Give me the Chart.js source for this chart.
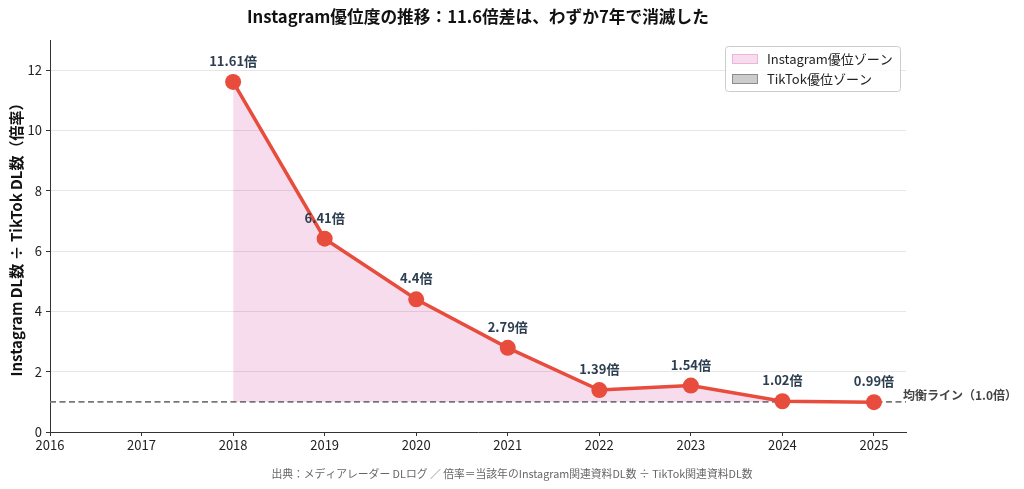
<!DOCTYPE html>
<html>
<head>
<meta charset="utf-8">
<script src="https://cdn.jsdelivr.net/npm/chart.js@4.4.1/dist/chart.umd.min.js"></script>
<style>
  html, body { margin: 0; padding: 0; background: #fff; }
  #wrap { width: 1024px; height: 489px; }
</style>
</head>
<body>
<div id="wrap"><canvas id="graficoRatio" width="1024" height="489"></canvas></div>
<script>
const years = [2018, 2019, 2020, 2021, 2022, 2023, 2024, 2025];
const ratios = [11.61, 6.41, 4.4, 2.79, 1.39, 1.54, 1.02, 0.99];
const ratioLabels = ["11.61倍", "6.41倍", "4.4倍", "2.79倍", "1.39倍", "1.54倍", "1.02倍", "0.99倍"];
const yTicks = [0, 2, 4, 6, 8, 10, 12];
const xTicks = [2016, 2017, 2018, 2019, 2020, 2021, 2022, 2023, 2024, 2025];
const balanceValue = 1.0;
const legendNames = ["Instagram優位ゾーン", "TikTok優位ゾーン"];

const FONT = "'Noto Sans CJK JP', 'Noto Sans', sans-serif";
const RED = "#e74c3c";
const PINK = "rgba(199,21,133,0.15)";
const GRAY = "rgba(128,128,128,0.4)";

const textosPlugin = {
  id: "textos",
  afterDatasetsDraw(chart) {
    const ctx = chart.ctx;
    const meta = chart.getDatasetMeta(0);
    ctx.save();
    ctx.font = "bold 13px " + FONT;
    ctx.fillStyle = "#2c3e50";
    ctx.textAlign = "center";
    ctx.textBaseline = "middle";
    meta.data.forEach((p, i) => {
      ctx.fillText(ratioLabels[i], p.x, p.y - 21);
    });
    ctx.restore();
  },
  afterDraw(chart) {
    const ctx = chart.ctx;
    const area = chart.chartArea;
    const yScale = chart.scales.y;
    ctx.save();
    // title
    ctx.font = "bold 16.7px " + FONT;
    ctx.fillStyle = "#111";
    ctx.textAlign = "center";
    ctx.textBaseline = "middle";
    ctx.fillText("Instagram優位度の推移：11.6倍差は、わずか7年で消滅した", (area.left + area.right) / 2, 17);
    // footer
    ctx.font = "10.8px " + FONT;
    ctx.fillStyle = "#666";
    ctx.fillText("出典：メディアレーダー DLログ ／ 倍率＝当該年のInstagram関連資料DL数 ÷ TikTok関連資料DL数", 512, 474);
    // balance label
    ctx.font = "bold 12px " + FONT;
    ctx.fillStyle = "#444";
    ctx.textAlign = "left";
    ctx.fillText("均衡ライン（1.0倍）", area.right - 3, yScale.getPixelForValue(balanceValue) - 6);
    // legend
    const lx = 725, ly = 46, lw = 175, lh = 45;
    ctx.fillStyle = "rgba(255,255,255,0.85)";
    ctx.strokeStyle = "#ccc";
    ctx.lineWidth = 1;
    ctx.beginPath();
    ctx.roundRect(lx + 0.5, ly + 0.5, lw, lh, 3);
    ctx.fill();
    ctx.stroke();
    const cols = [PINK, GRAY];
    const edges = ["rgba(199,21,133,0.2)", "rgba(100,100,100,0.6)"];
    legendNames.forEach((name, i) => {
      const yy = ly + 13 + i * 20;
      ctx.fillStyle = cols[i];
      ctx.fillRect(lx + 7, yy - 5, 26, 10);
      ctx.strokeStyle = edges[i];
      ctx.strokeRect(lx + 7.5, yy - 4.5, 25, 9);
      ctx.fillStyle = "#222";
      ctx.font = "13px " + FONT;
      ctx.textBaseline = "middle";
      ctx.fillText(name, lx + 42, yy);
    });
    ctx.restore();
  }
};

new Chart(document.getElementById("graficoRatio"), {
  type: "line",
  data: {
    datasets: [
      {
        label: "ratio",
        data: years.map((y, i) => ({ x: y, y: ratios[i] })),
        borderColor: RED,
        backgroundColor: RED,
        borderWidth: 3.5,
        pointRadius: 8,
        pointBackgroundColor: RED,
        pointBorderColor: RED,
        pointBorderWidth: 0,
        tension: 0,
        fill: { target: { value: balanceValue }, above: PINK, below: GRAY },
        order: 1
      },
      {
        label: "balance",
        data: [{ x: 2016, y: balanceValue }, { x: 2025.35, y: balanceValue }],
        borderColor: "#777",
        borderWidth: 1.7,
        borderDash: [6, 3.5],
        pointRadius: 0,
        fill: false,
        order: 2
      }
    ]
  },
  options: {
    responsive: false,
    animation: false,
    layout: { padding: { left: 0, right: 118, top: 40, bottom: 0 } },
    plugins: {
      legend: { display: false },
      tooltip: { enabled: false }
    },
    scales: {
      x: {
        type: "linear",
        min: 2016,
        max: 2025.35,
        afterBuildTicks: s => { s.ticks = xTicks.map(v => ({ value: v })); },
        afterFit: s => { s.height = 57; },
        ticks: { color: "#222", font: { size: 13, family: FONT }, callback: v => String(v), padding: 1, maxRotation: 0 },
        grid: { drawOnChartArea: false, tickColor: "#333", tickLength: 4 },
        border: { color: "#333", width: 1 }
      },
      y: {
        min: 0,
        max: 13,
        afterBuildTicks: s => { s.ticks = yTicks.map(v => ({ value: v })); },
        afterFit: s => { s.width = 50; },
        ticks: { color: "#222", font: { size: 13, family: FONT }, padding: 4 },
        grid: { color: "#e6e6e6", tickColor: "#333", tickLength: 4 },
        border: { color: "#333", width: 1 },
        title: {
          display: true,
          text: "Instagram DL数 ÷ TikTok DL数（倍率）",
          color: "#111",
          font: { size: 15, weight: "bold", family: FONT },
          padding: { top: 7, bottom: 0 }
        }
      }
    }
  },
  plugins: [textosPlugin]
});
</script>
</body>
</html>
